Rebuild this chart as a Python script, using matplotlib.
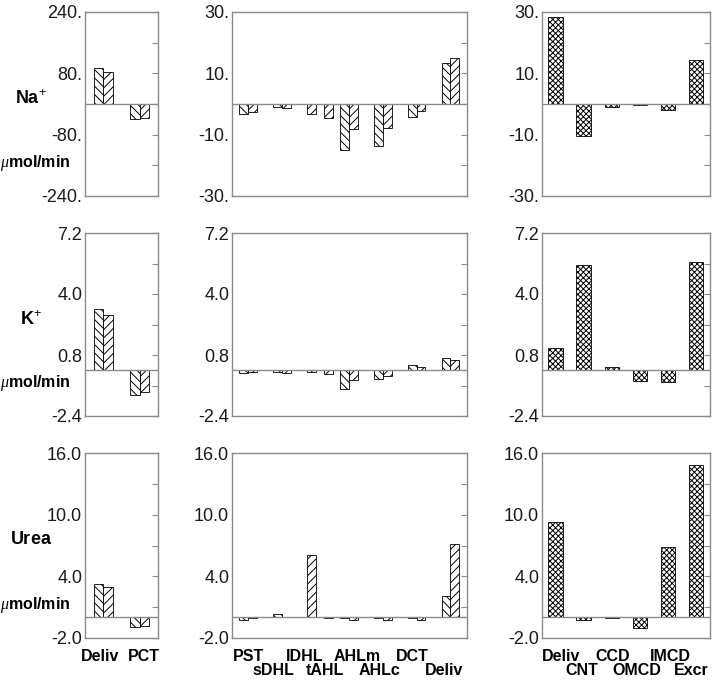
import matplotlib
matplotlib.use("Agg")
import matplotlib.pyplot as plt
from matplotlib.transforms import blended_transform_factory

plt.rcParams['font.family'] = ['Liberation Sans', 'DejaVu Sans']
plt.rcParams['mathtext.fontset'] = 'custom'
plt.rcParams['mathtext.rm'] = 'Liberation Sans'
plt.rcParams['mathtext.bf'] = 'Liberation Sans:bold'
plt.rcParams['mathtext.it'] = 'Liberation Serif:italic'
plt.rcParams['hatch.linewidth'] = 0.7

# ---------------- data ----------------
rows = ["Na", "K", "Urea"]

cat_left = ["Deliv", "PCT"]
na_left_a = [93, -39]
na_left_b = [84, -37]
k_left_a = [3.21, -1.31]
k_left_b = [2.89, -1.16]
urea_left_a = [3.24, -0.97]
urea_left_b = [2.92, -0.81]

cat_mid = ["PST", "sDHL", "IDHL", "tAHL", "AHLm", "AHLc", "DCT", "Deliv"]
na_mid_a = [-3.3, -0.9, None, None, -15.1, -13.7, -4.3, 13.5]
na_mid_b = [-2.7, -1.3, -3.2, -4.6, -8.3, -7.9, -2.3, 15.1]
k_mid_a = [-0.13, -0.08, None, None, -0.97, -0.46, 0.29, 0.64]
k_mid_b = [-0.08, -0.17, -0.08, -0.22, -0.53, -0.31, 0.15, 0.55]
urea_mid_a = [-0.23, 0.29, None, None, -0.03, -0.05, -0.05, 2.1]
urea_mid_b = [-0.10, 0.05, 6.07, -0.10, -0.29, -0.29, -0.20, 7.13]

cat_right = ["Deliv", "CNT", "CCD", "OMCD", "IMCD", "Excr"]
na_right = [28.4, -10.4, -1.1, -0.2, -2.1, 14.2]
k_right = [1.15, 5.50, 0.16, -0.54, -0.63, 5.67]
urea_right = [9.24, -0.20, -0.10, -1.00, 6.84, 14.79]

# y-axis settings per row
ylims = [(-240, 240), (-2.4, 7.2), (-2.0, 16.0)]
ymajor = [[-240, -80, 80, 240], [-2.4, 0.8, 4.0, 7.2], [-2.0, 4.0, 10.0, 16.0]]
yminor = [[-160, 0, 160], [-0.8, 2.4, 5.6], [1.0, 7.0, 13.0]]
ylims_mid = [(-30, 30), (-2.4, 7.2), (-2.0, 16.0)]
ymajor_mid = [[-30, -10, 10, 30], [-2.4, 0.8, 4.0, 7.2], [-2.0, 4.0, 10.0, 16.0]]
yminor_mid = [[-20, 0, 20], [-0.8, 2.4, 5.6], [1.0, 7.0, 13.0]]
fmt = [lambda v: f"{v:.0f}.", lambda v: f"{v:.1f}", lambda v: f"{v:.1f}"]

left_data = [(na_left_a, na_left_b), (k_left_a, k_left_b), (urea_left_a, urea_left_b)]
mid_data = [(na_mid_a, na_mid_b), (k_mid_a, k_mid_b), (urea_mid_a, urea_mid_b)]
right_data = [na_right, k_right, urea_right]

# ---------------- layout ----------------
W, H = 712, 681
fig = plt.figure(figsize=(W / 100, H / 100), dpi=100)

col_px = [(85, 158), (232, 467), (542, 710)]
row_px = [(12, 196), (233, 416), (453, 638)]

GRAY = "#8a8a8a"
HA = "\\\\\\\\"
HB = "////"
HX = "xxxxxx"

mid_pos = [0.5, 2.5, 4.25, 5.25, 6.5, 8.5, 10.5, 12.5]
mid_lbl_pos = [0.55, 2.0, 3.85, 5.04, 6.95, 8.3, 10.25, 12.1]
right_lbl_pos = [0.2, 0.95, 2.05, 2.9, 4.1, 4.85]
left_lbl_pos = [0.92, 2.1]


def style(ax, r, lims, major, minor):
    ax.set_ylim(*lims)
    ax.set_yticks(major)
    ax.set_yticks(minor, minor=True)
    ax.set_yticklabels([fmt[r](v) for v in major])
    ax.tick_params(axis='y', which='both', left=False, right=True, labelleft=True,
                   direction='in', length=4, width=0.8, color=GRAY, pad=2,
                   labelsize=13, labelcolor='#1a1a1a')
    ax.tick_params(axis='x', which='both', bottom=False, top=False, labelbottom=False)
    for s in ax.spines.values():
        s.set_color(GRAY)
        s.set_linewidth(1.0)
    ax.axhline(0, color=GRAY, lw=1.0, zorder=3)


axes = []
for r in range(3):
    y0, y1 = row_px[r]
    row_axes = []
    for c in range(3):
        x0, x1 = col_px[c]
        ax = fig.add_axes([x0 / W, 1 - y1 / H, (x1 - x0) / W, (y1 - y0) / H])
        row_axes.append(ax)
    axes.append(row_axes)

    # left column
    ax = row_axes[0]
    a, b = left_data[r]
    xs = list(range(1, len(cat_left) + 1))
    ax.bar([x - 0.13 for x in xs], a, width=0.26, facecolor='white', edgecolor='black',
           hatch=HA, linewidth=0.6, zorder=2)
    ax.bar([x + 0.13 for x in xs], b, width=0.26, facecolor='white', edgecolor='black',
           hatch=HB, linewidth=0.6, zorder=2)
    ax.set_xlim(0.5, 2.5)
    style(ax, r, ylims[r], ymajor[r], yminor[r])

    # middle column
    ax = row_axes[1]
    a, b = mid_data[r]
    for i, (va, vb) in enumerate(zip(a, b)):
        p = mid_pos[i]
        if va is None:
            ax.bar(p, vb, width=0.52, facecolor='white', edgecolor='black',
                   hatch=HB, linewidth=0.6, zorder=2)
        else:
            ax.bar(p - 0.26, va, width=0.52, facecolor='white', edgecolor='black',
                   hatch=HA, linewidth=0.6, zorder=2)
            ax.bar(p + 0.26, vb, width=0.52, facecolor='white', edgecolor='black',
                   hatch=HB, linewidth=0.6, zorder=2)
    ax.set_xlim(-0.45, 13.48)
    style(ax, r, ylims_mid[r], ymajor_mid[r], yminor_mid[r])

    # right column
    ax = row_axes[2]
    ax.bar(range(len(cat_right)), right_data[r], width=0.51, facecolor='white',
           edgecolor='black', hatch=HX, linewidth=0.6, zorder=2)
    ax.set_xlim(-0.48, 5.5)
    style(ax, r, ylims_mid[r], ymajor_mid[r], yminor_mid[r])

# row labels
row_titles = [r"$\mathbf{Na}^{+}$", r"$\mathbf{K}^{+}$", r"$\mathbf{Urea}$"]
for r in range(3):
    ax = axes[r][0]
    tr = blended_transform_factory(fig.transFigure, ax.transAxes)
    ax.text(31 / W, 0.53, row_titles[r], transform=tr, ha='center', va='center',
            fontsize=13, color='black')
    ax.text(35 / W, 0.18, r"$\mu\mathbf{mol/min}$", transform=tr, ha='center',
            va='center', fontsize=11.5, color='black')

# x category labels (bottom row)
fs_lbl = 11.5
ax = axes[2][0]
tr = blended_transform_factory(ax.transData, ax.transAxes)
for p, t in zip(left_lbl_pos, cat_left):
    ax.text(p, -0.1, t, transform=tr, ha='center', va='center', fontsize=fs_lbl,
            fontweight='bold')
ax = axes[2][1]
tr = blended_transform_factory(ax.transData, ax.transAxes)
for i, (p, t) in enumerate(zip(mid_lbl_pos, cat_mid)):
    ax.text(p, -0.1 if i % 2 == 0 else -0.175, t, transform=tr, ha='center',
            va='center', fontsize=fs_lbl, fontweight='bold')
ax = axes[2][2]
tr = blended_transform_factory(ax.transData, ax.transAxes)
for i, (p, t) in enumerate(zip(right_lbl_pos, cat_right)):
    ax.text(p, -0.1 if i % 2 == 0 else -0.175, t, transform=tr, ha='center',
            va='center', fontsize=fs_lbl, fontweight='bold')

fig.savefig("out.png", dpi=100)
